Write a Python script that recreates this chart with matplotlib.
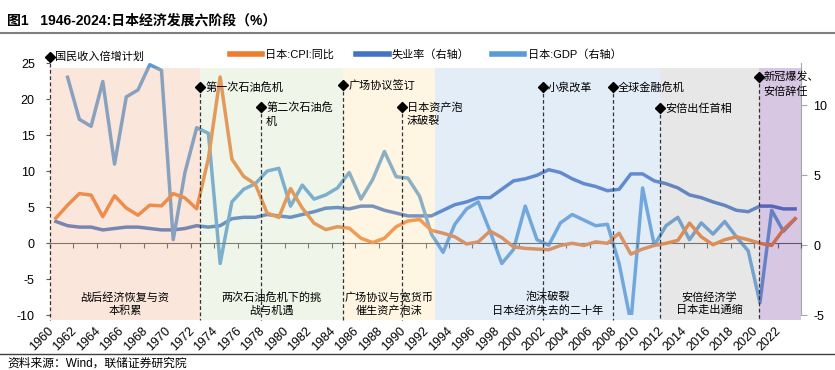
import numpy as np
import matplotlib
matplotlib.use('Agg')
import matplotlib.pyplot as plt
from matplotlib.lines import Line2D

plt.rcParams['font.family'] = ['Liberation Sans', 'Noto Sans CJK SC']
plt.rcParams['axes.unicode_minus'] = False

# 数据 1960-2023
years = np.arange(1960, 2024)
cpi = [3.5, 5.3, 6.9, 6.7, 3.7, 6.6, 4.9, 3.9, 5.3, 5.2,
       6.9, 6.3, 4.8, 11.8, 23.1, 11.7, 9.3, 8.2, 4.2, 3.6,
       7.6, 4.9, 2.8, 1.9, 2.3, 2.1, 0.7, 0.1, 0.7, 2.3,
       3.1, 3.3, 1.8, 1.4, 0.9, -0.1, 0.2, 1.7, 0.8, -0.5,
       -0.7, -0.8, -0.9, -0.3, 0.0, -0.3, 0.2, 0.0, 1.4, -1.5,
       -0.8, -0.3, 0.0, 0.4, 2.8, 0.9, -0.2, 0.5, 0.9, 0.5,
       0.0, -0.3, 1.9, 3.4]
unemp = [1.7, 1.4, 1.3, 1.3, 1.1, 1.2, 1.3, 1.3, 1.2, 1.1,
         1.1, 1.2, 1.4, 1.3, 1.4, 1.9, 2.0, 2.0, 2.2, 2.1,
         2.0, 2.2, 2.4, 2.65, 2.7, 2.6, 2.8, 2.8, 2.5, 2.3,
         2.1, 2.1, 2.1, 2.5, 2.9, 3.1, 3.4, 3.4, 4.0, 4.6,
         4.75, 5.0, 5.4, 5.2, 4.75, 4.4, 4.2, 3.9, 4.0, 5.1,
         5.1, 4.6, 4.4, 4.1, 3.6, 3.4, 3.1, 2.85, 2.5, 2.4,
         2.8, 2.8, 2.6, 2.6]
gdp = [np.nan, 12.0, 9.0, 8.5, 11.7, 5.8, 10.6, 11.1, 12.9, 12.5,
       0.4, 5.2, 8.4, 8.0, -1.3, 3.1, 4.0, 4.4, 5.3, 5.5,
       2.8, 4.3, 3.3, 3.6, 4.1, 5.2, 3.3, 4.7, 6.7, 4.9,
       4.8, 3.5, 0.8, -0.5, 1.5, 2.6, 3.1, 1.0, -1.3, -0.3,
       2.8, 0.4, 0.0, 1.6, 2.2, 1.8, 1.4, 1.5, -1.3, -5.5,
       4.1, 0.0, 1.4, 2.0, 0.4, 1.6, 0.8, 1.7, 0.6, -0.4,
       -4.1, 2.5, 1.0, 1.9]

# 阶段划分
bounds = [1960, 1972.8, 1985, 1992.85, 2012, 2020.4, 2024]
stage_colors = ['#F2AF8A', '#CADEB9', '#FCE1A5', '#A5C6E8', '#B2B2B2', '#8048A5']
stage_text = ['战后经济恢复与资\n本积累', '两次石油危机下的挑\n战与机遇', '广场协议与宽货币\n催生资产泡沫',
              '泡沫破裂\n日本经济失去的二十年', '安倍经济学\n日本走出通缩', '']

# 事件
ev_x = [1960, 1972.8, 1978, 1985, 1990, 2002, 2008, 2012, 2020.4]
ev_y = [25.9, 21.75, 18.9, 22.0, 18.9, 21.7, 21.75, 18.75, 23.1]
ev_text = ['国民收入倍增计划', '第一次石油危机', '第二次石油危\n机', '广场协议签订', '日本资产泡\n沫破裂',
           '小泉改革', '全球金融危机', '安倍出任首相', '新冠爆发、\n安倍辞任']

fig = plt.figure(figsize=(8.35, 3.70), dpi=100)
ax = fig.add_axes([50/835, 1-315.3/370, 751/835, 252/370])
ax2 = ax.twinx()
ax.set_zorder(ax2.get_zorder() + 1)
ax.patch.set_visible(False)

x = years + 0.5
l1, = ax.plot(x, cpi, color='#ED7D31', lw=2.5, zorder=2)
l2, = ax2.plot(x, unemp, color='#4472C4', lw=2.5, zorder=2)
l3, = ax2.plot(x, gdp, color='#5B9BD5', lw=2.5, zorder=3)

ax.set_xlim(1960, 2024)
ax.set_ylim(-10, 25)
ax2.set_ylim(-5, 13)

for i in range(len(stage_colors)):
    ax.axvspan(bounds[i], bounds[i+1], ymin=-0.018, ymax=0.982, color=stage_colors[i],
               alpha=0.3, lw=0, zorder=3, clip_on=False)
    if stage_text[i]:
        ax.text((bounds[i] + bounds[i+1]) / 2, -6.75, stage_text[i], ha='center', va='top',
                multialignment='center', fontsize=8, linespacing=1.3, zorder=6)

for xx, yy, t in zip(ev_x, ev_y, ev_text):
    ax.plot([xx, xx], [yy, -10.6], ls=(0, (3, 2)), color='#333333', lw=0.9, zorder=4, clip_on=False)
    ax.plot(xx, yy, marker='D', color='black', ms=5.5, zorder=5, clip_on=False)
    ax.annotate(t, (xx, yy), xytext=(3.5, 3.8), textcoords='offset points', ha='left', va='top',
                fontsize=8, linespacing=1.45, zorder=6, annotation_clip=False)

# 年份标签
ax.set_xticks(np.arange(1960, 2024, 2) + 0.5)
ax.set_xticklabels([str(y) for y in range(1960, 2024, 2)], rotation=45, ha='right', fontsize=9)
ax.tick_params(axis='x', length=0, pad=7)

# 零轴与刻度
sec = ax.secondary_xaxis(10/35)
sec.set_xticks(np.arange(1960, 2025, 2))
sec.set_xticklabels([])
sec.tick_params(axis='x', direction='out', length=3.5, color='#595959', width=0.8)
sec.spines['bottom'].set_color('#595959')

ax.set_yticks(np.arange(-10, 26, 5))
ax.tick_params(axis='y', length=3, color='#595959', labelsize=9, pad=8)
ax2.set_yticks([-5, 0, 5, 10])
ax2.tick_params(axis='y', length=4, color='#A6A6A6', labelsize=9, pad=5)

for s in ['top', 'right', 'left', 'bottom']:
    ax.spines[s].set_visible(False)
for s in ['top', 'left', 'bottom']:
    ax2.spines[s].set_visible(False)
ax2.spines['right'].set_color('#A6A6A6')

handles = [Line2D([], [], color='#ED7D31', lw=4), Line2D([], [], color='#4472C4', lw=4),
           Line2D([], [], color='#5B9BD5', lw=4)]
ax.legend(handles, ['日本:CPI:同比', '失业率（右轴）', '日本:GDP（右轴）'], loc='center',
          bbox_to_anchor=(0.5, 1.036), ncol=3, frameon=False, fontsize=8,
          handlelength=2.9, columnspacing=2.0, handletextpad=0.3)

fig.text(0.0084, 0.944, '图1   1946-2024:日本经济发展六阶段（%）', fontsize=10, fontweight='bold', va='center')
fig.add_artist(Line2D([0, 1], [0.9108, 0.9108], transform=fig.transFigure, color='#7F7F7F', lw=1.5))
fig.add_artist(Line2D([0, 1], [0.0432, 0.0432], transform=fig.transFigure, color='#404040', lw=1.0))
fig.text(0.0084, 0.0162, '资料来源：Wind，联储证券研究院', fontsize=8.5, va='center')

fig.savefig('out.png', dpi=100)
